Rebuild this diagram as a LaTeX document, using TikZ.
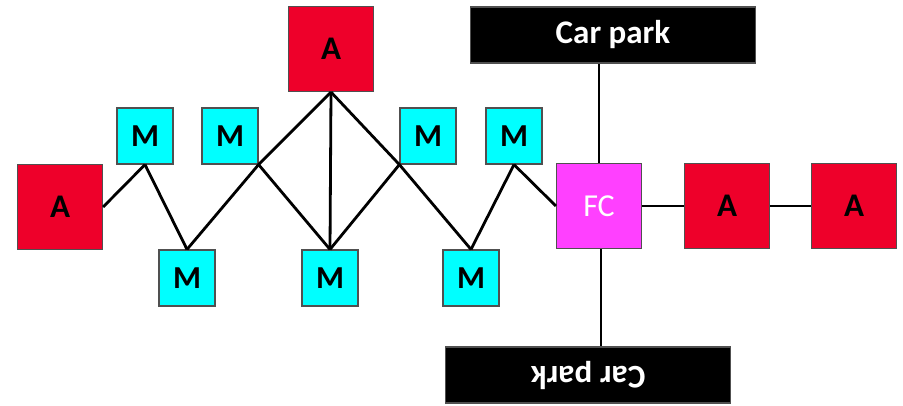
\documentclass[tikz,border=0pt]{standalone}
\usepackage{fontspec}
\setmainfont{Carlito}
\definecolor{ared}{RGB}{238,0,42}
\definecolor{mcyan}{RGB}{0,255,255}
\definecolor{fcmag}{RGB}{255,64,255}
\definecolor{bordergray}{RGB}{80,80,80}
\tikzset{
  box/.style={rectangle, draw=bordergray, line width=1.2pt, inner sep=0pt},
  abox/.style={box, fill=ared, minimum width=85pt, minimum height=85pt, font=\fontsize{33}{35}\selectfont\bfseries},
  mbox/.style={box, fill=mcyan, minimum width=56pt, minimum height=56pt, font=\fontsize{32}{34}\selectfont\bfseries},
  fcbox/.style={box, fill=fcmag, minimum width=85pt, minimum height=85pt, text=white, font=\fontsize{32}{34}\selectfont},
  cpbox/.style={box, fill=black, minimum width=285pt, minimum height=56pt, text=white, font=\fontsize{33}{35}\selectfont\bfseries},
  link/.style={line width=2.8pt, black}
}
\begin{document}
\begin{tikzpicture}[x=1pt,y=-1pt]
\useasboundingbox (0,0) rectangle (903,405);
\node[abox] (aL) at (60,207) {A};
\node[abox] (aT) at (331,49) {A};
\node[mbox] (m1) at (145,136) {M};
\node[mbox] (m2) at (230,136) {M};
\node[mbox] (m3) at (428,136) {M};
\node[mbox] (m4) at (514,136) {M};
\node[mbox] (l1) at (187,278) {M};
\node[mbox] (l2) at (330,278) {M};
\node[mbox] (l3) at (471,278) {M};
\node[fcbox] (fc) at (599,206) {FC};
\node[abox] (a1) at (727,206) {A};
\node[abox] (a2) at (854,206) {A};
\node[cpbox] (cpt) at (613,35) {Car park};
\node[cpbox] (cpb) at (588,375) {\rotatebox{180}{Car park}};
\draw[link] (aL.east) -- (m1.south);
\draw[link] (m1.south) -- (l1.north);
\draw[link] (l1.north) -- (m2.south east);
\draw[link] (m2.south east) -- (aT.south);
\draw[link] (m2.south east) -- (l2.north);
\draw[link] (aT.south) -- (l2.north);
\draw[link] (aT.south) -- (m3.south west);
\draw[link] (m3.south west) -- (l2.north);
\draw[link] (m3.south west) -- (l3.north);
\draw[link] (l3.north) -- (m4.south);
\draw[link] (m4.south) -- (fc.west);
\draw[link] (fc.north) -- (fc.north |- cpt.south);
\draw[link] ([xshift=2pt]fc.south) -- ([xshift=2pt]fc.south |- cpb.north);
\draw[link] (fc.east) -- (a1.west);
\draw[link] (a1.east) -- (a2.west);
\end{tikzpicture}
\end{document}
